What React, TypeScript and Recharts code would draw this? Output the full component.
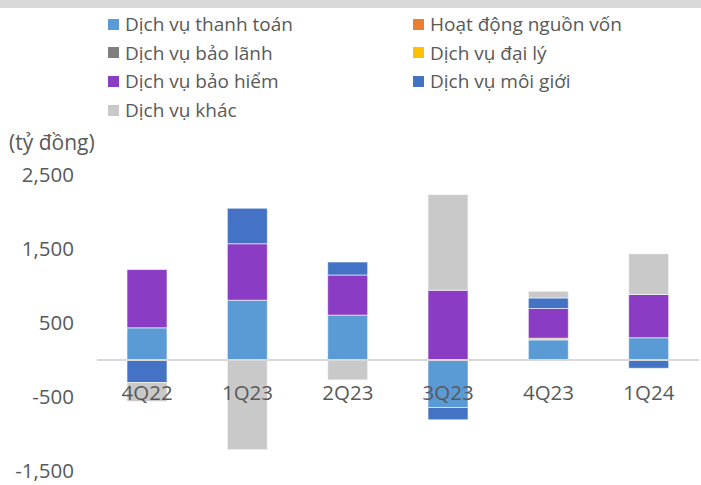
import React from 'react'
import { BarChart, Bar, XAxis, YAxis, ReferenceLine } from 'recharts'

// Quý
const quarters = ['4Q22', '1Q23', '2Q23', '3Q23', '4Q23', '1Q24']

// Giá trị từng mảng dịch vụ (tỷ đồng)
const thanhToan = [435, 808, 606, -642, 272, 301]
const nguonVon = [0, 0, 0, 0, 0, 0]
const baoLanh = [0, 0, 0, 0, 0, 0]
const daiLy = [0, 0, 0, 0, 22, 0]
const baoHiem = [787, 763, 543, 943, 402, 584]
const moiGioi = [-305, 480, 175, -166, 143, -112]
const khac = [-257, -1212, -269, 1293, 90, 552]

const yTicks = [-1500, -500, 500, 1500, 2500]

const SERIES = [
  { key: 'thanhToan', name: 'Dịch vụ thanh toán', color: '#5B9BD5', values: thanhToan },
  { key: 'nguonVon', name: 'Hoạt động nguồn vốn', color: '#ED7D31', values: nguonVon },
  { key: 'baoLanh', name: 'Dịch vụ bảo lãnh', color: '#7F7F7F', values: baoLanh },
  { key: 'daiLy', name: 'Dịch vụ đại lý', color: '#FFC000', values: daiLy },
  { key: 'baoHiem', name: 'Dịch vụ bảo hiểm', color: '#8B3CC4', values: baoHiem },
  { key: 'moiGioi', name: 'Dịch vụ môi giới', color: '#4472C4', values: moiGioi },
  { key: 'khac', name: 'Dịch vụ khác', color: '#C9C9C9', values: khac },
]

const data = quarters.map((q, i) => {
  const row: Record<string, string | number> = { quarter: q }
  SERIES.forEach(s => { row[s.key] = s.values[i] })
  return row
})

const FONT = "'Open Sans', sans-serif"
const TEXT = '#595959'
const PLOT_TOP = 175
const PLOT_H = 296
const DOMAIN: [number, number] = [-1500, 2500]
const zeroY = PLOT_TOP + PLOT_H * (DOMAIN[1] / (DOMAIN[1] - DOMAIN[0]))

// nhãn quý nằm ngay dưới trục 0 (như Excel)
const renderQuarterTick = (props: any) => {
  const { x, payload } = props
  return (
    <text x={x} y={zeroY + 40} textAnchor="middle" fill={TEXT} fontSize={20.5} fontFamily={FONT}>
      {payload.value}
    </text>
  )
}

export default function App() {
  return (
    <div style={{ position: 'absolute', left: 0, top: 0, width: 701, height: 485, background: '#fff', fontFamily: FONT }}>
      <div style={{ position: 'absolute', left: 0, top: 0, width: 701, height: 8, background: '#D9D9D9' }} />

      {/* chú thích */}
      {SERIES.map((s, i) => {
        const col = i % 2
        const row = Math.floor(i / 2)
        return (
          <div
            key={s.key}
            style={{
              position: 'absolute',
              left: col === 0 ? 108 : 413,
              top: 24 + row * 28.7 - 13,
              height: 26,
              display: 'flex',
              alignItems: 'center',
              fontSize: 19,
              color: TEXT,
              whiteSpace: 'nowrap',
            }}
          >
            <span style={{ width: 11, height: 11, background: s.color, display: 'inline-block', marginRight: 6 }} />
            {s.name}
          </div>
        )
      })}

      <div style={{ position: 'absolute', left: 9, top: 128, fontSize: 21, color: TEXT, whiteSpace: 'nowrap' }}>
        (tỷ đồng)
      </div>

      <div style={{ position: 'absolute', left: 0, top: 0 }}>
        <BarChart
          width={701}
          height={485}
          data={data}
          stackOffset="sign"
          barSize={40}
          margin={{ top: PLOT_TOP, right: 2, bottom: 485 - PLOT_TOP - PLOT_H - 2, left: 0 }}
        >
          <YAxis
            width={97}
            domain={DOMAIN}
            ticks={yTicks}
            axisLine={false}
            tickLine={false}
            tickSize={0}
            tickMargin={23}
            tick={{ fill: TEXT, fontSize: 20.5, fontFamily: FONT }}
            tickFormatter={(v: number) => v.toLocaleString('en-US')}
          />
          {SERIES.map(s => (
            <Bar
              key={s.key}
              dataKey={s.key}
              name={s.name}
              stackId="a"
              fill={s.color}
              stroke="#ffffff"
              strokeWidth={0.6}
              isAnimationActive={false}
            />
          ))}
          <ReferenceLine y={0} stroke="#D9D9D9" strokeWidth={2} />
          <XAxis
            dataKey="quarter"
            height={2}
            axisLine={false}
            tickLine={false}
            tick={renderQuarterTick}
            interval={0}
          />
        </BarChart>
      </div>
    </div>
  )
}
